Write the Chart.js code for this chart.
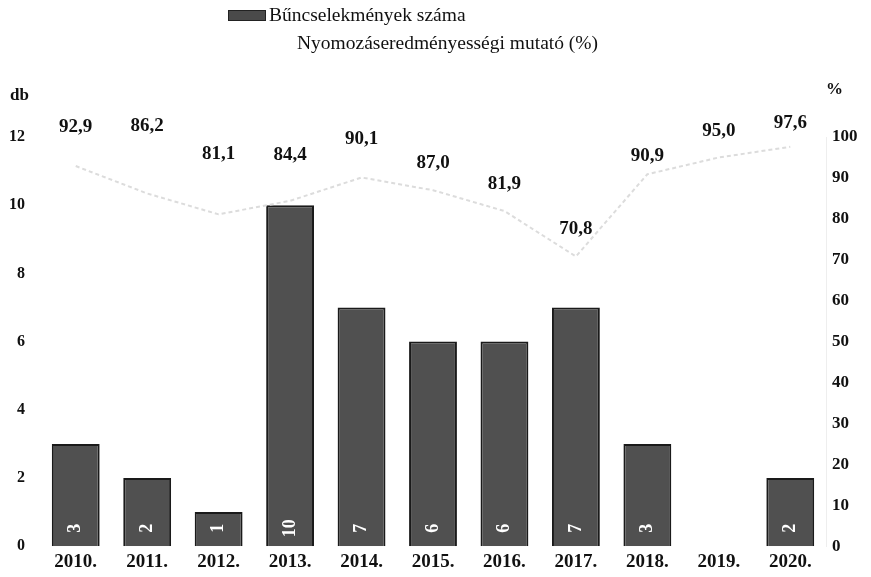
<!DOCTYPE html>
<html lang="hu">
<head>
<meta charset="UTF-8" />
<title>Bűncselekmények száma</title>
<style>
  body{margin:0;padding:0;background:#fff;font-family:"Liberation Serif","DejaVu Serif",serif;color:#111;}
  .wrap{position:relative;width:871px;height:577px;}
  .legend{position:absolute;left:0;top:0;width:871px;font-size:19.5px;line-height:22px;}
  .lg1{position:absolute;left:228px;top:4px;display:flex;align-items:center;}
  .lg2{position:absolute;left:297px;top:32px;}
  .sw{display:inline-block;width:36px;height:9px;background:#4a4a4a;border:1px solid #222;margin-right:3px;}
  canvas{position:absolute;left:0;top:0;}
</style>
<script src="https://cdn.jsdelivr.net/npm/chart.js"></script>
</head>
<body>
<div class="wrap">
  <canvas id="chart" width="871" height="577"></canvas>
  <div class="legend">
    <div class="lg1"><span class="sw"></span>Bűncselekmények száma</div>
    <div class="lg2">Nyomozáseredményességi mutató (%)</div>
  </div>
</div>

<script>
/* ---- adatok ---- */
const years  = ['2010.','2011.','2012.','2013.','2014.','2015.','2016.','2017.','2018.','2019.','2020.'];
const crimes = [3, 2, 1, 10, 7, 6, 6, 7, 3, null, 2];
const rate   = [92.9, 86.2, 81.1, 84.4, 90.1, 87.0, 81.9, 70.8, 90.9, 95.0, 97.6];

// címkék eltolása a pont fölött (px) – csak stílus
const labelLift = [39, 67, 60, 46, 38, 27, 27, 27, 18, 26, 24];

const FONT = '"Liberation Serif","DejaVu Serif",serif';

/* ---- saját feliratok ---- */
const labelsPlugin = {
  id:'labels',
  afterDatasetsDraw(chart){
    const c = chart.ctx;
    // oszlopok értékei, elforgatva
    const bars = chart.getDatasetMeta(0).data;
    c.save();
    c.fillStyle = '#fff';
    c.font = 'bold 18px ' + FONT;
    c.textAlign = 'center'; c.textBaseline = 'middle';
    bars.forEach((b,i)=>{
      if(crimes[i]==null) return;
      c.save();
      c.translate(b.x, chart.chartArea.bottom - 18);
      c.rotate(-Math.PI/2);
      c.fillText(String(crimes[i]), 0, 0);
      c.restore();
    });
    // mutató értékei
    const pts = chart.getDatasetMeta(1).data;
    c.fillStyle = '#111';
    c.font = 'bold 19px ' + FONT;
    pts.forEach((p,i)=>{
      c.fillText(rate[i].toFixed(1).replace('.',','), p.x, p.y - labelLift[i]);
    });
    // tengelycímek
    c.font = 'bold 17px ' + FONT;
    c.textAlign = 'left';
    c.fillText('db', 10, 96);
    c.fillText('%', 826, 90);
    c.restore();
  }
};

const ctx = document.getElementById('chart').getContext('2d');
new Chart(ctx, {
  type:'bar',
  data:{
    labels: years,
    datasets:[
      {label:'Bűncselekmények száma', data:crimes, yAxisID:'y',
       backgroundColor:'#505050', borderColor:'#1a1a1a', borderWidth:2,
       categoryPercentage:0.67, barPercentage:1, order:2},
      {label:'Nyomozáseredményességi mutató (%)', type:'line', data:rate, yAxisID:'y1',
       borderColor:'#dcdcdc', borderWidth:2, borderDash:[4,3], pointRadius:0,
       tension:0, order:1}
    ]
  },
  options:{
    responsive:false, animation:false,
    layout:{padding:{top:137, bottom:0, left:0, right:0}},
    plugins:{legend:{display:false}, tooltip:{enabled:false}},
    scales:{
      x:{
        grid:{display:false, drawTicks:false}, border:{display:false},
        ticks:{color:'#111', font:{family:FONT, size:19, weight:'bold'}, padding:4}
      },
      y:{
        position:'left', min:0, max:12,
        grid:{display:false, drawTicks:false}, border:{display:false},
        ticks:{stepSize:2, color:'#111', font:{family:FONT, size:16, weight:'bold'}, padding:15},
        afterFit(s){ s.width = 40; }
      },
      y1:{
        position:'right', min:0, max:100,
        grid:{display:false, drawTicks:false}, border:{display:true, color:'#eee', dash:[2,3]},
        ticks:{stepSize:10, color:'#111', font:{family:FONT, size:17, weight:'bold'}, padding:6},
        afterFit(s){ s.width = 45; }
      }
    }
  },
  plugins:[labelsPlugin]
});
</script>
</body>
</html>
